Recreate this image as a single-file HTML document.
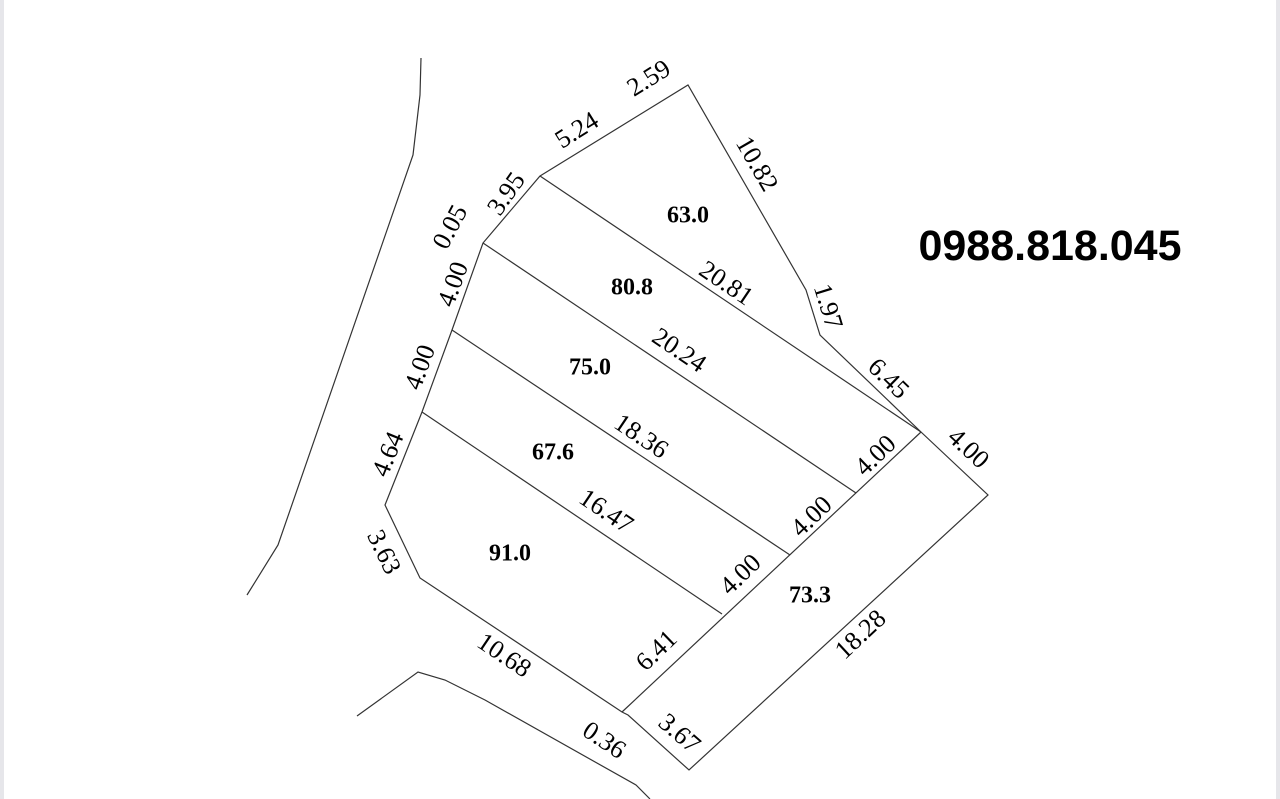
<!DOCTYPE html>
<html><head><meta charset="utf-8"><style>
html,body{margin:0;padding:0;background:#fff;width:1280px;height:799px;overflow:hidden}
svg{display:block}
.t{font-family:"Liberation Serif",serif;font-size:26px;fill:#000}
.a{font-family:"Liberation Serif",serif;font-size:24px;font-weight:bold;fill:#000}
</style></head><body>
<svg width="1280" height="799" viewBox="0 0 1280 799">
<rect x="0" y="0" width="4" height="799" fill="#e6e6ea"/>
<rect x="1276" y="0" width="4" height="799" fill="#e6e6ea"/>
<g fill="none" stroke="#333" stroke-width="1.2">
<polyline points="421,58 420,95 413,155 278,545 247,595"/>
<polyline points="357,716 418,672 445,680 485,700 636,785 650,799"/>
<polygon points="540,176 688,85 806,290 820,335 921,432 988,495 689,770 628,715 622,712 420,578 385,505 422,412 452,330 483,243"/>
<line x1="540" y1="176" x2="921" y2="432"/>
<line x1="483" y1="243" x2="856" y2="493"/>
<line x1="452" y1="330" x2="790" y2="555"/>
<line x1="422" y1="412" x2="722" y2="614"/>
<line x1="921" y1="432" x2="622" y2="712"/>
</g>
<g class="t" text-anchor="middle" dominant-baseline="middle">
<text transform="translate(650,80) rotate(-32)">2.59</text>
<text transform="translate(578,132) rotate(-32)">5.24</text>
<text transform="translate(755,165) rotate(60)">10.82</text>
<text transform="translate(508,195) rotate(-55)">3.95</text>
<text transform="translate(452,228) rotate(-62)">0.05</text>
<text transform="translate(455,285) rotate(-70)">4.00</text>
<text transform="translate(422,368) rotate(-70)">4.00</text>
<text transform="translate(390,455) rotate(-68)">4.64</text>
<text transform="translate(382,553) rotate(64)">3.63</text>
<text transform="translate(503,657) rotate(34)">10.68</text>
<text transform="translate(603,742) rotate(34)">0.36</text>
<text transform="translate(678,735) rotate(41)">3.67</text>
<text transform="translate(658,652) rotate(-44)">6.41</text>
<text transform="translate(742,576) rotate(-44)">4.00</text>
<text transform="translate(813,518) rotate(-44)">4.00</text>
<text transform="translate(877,457) rotate(-44)">4.00</text>
<text transform="translate(862,636) rotate(-43)">18.28</text>
<text transform="translate(967,450) rotate(43)">4.00</text>
<text transform="translate(887,380) rotate(44)">6.45</text>
<text transform="translate(826,307) rotate(73)">1.97</text>
<text transform="translate(725,285) rotate(34)">20.81</text>
<text transform="translate(678,352) rotate(34)">20.24</text>
<text transform="translate(640,438) rotate(34)">18.36</text>
<text transform="translate(605,513) rotate(34)">16.47</text>
</g>
<g class="a" text-anchor="middle" dominant-baseline="middle">
<text x="688" y="217">63.0</text>
<text x="632" y="289">80.8</text>
<text x="590" y="369">75.0</text>
<text x="553" y="454">67.6</text>
<text x="510" y="555">91.0</text>
<text x="810" y="597">73.3</text>
</g>
<text x="1050" y="260" text-anchor="middle" font-family="Liberation Sans,sans-serif" font-weight="bold" font-size="43" fill="#000">0988.818.045</text>
</svg>
</body></html>
